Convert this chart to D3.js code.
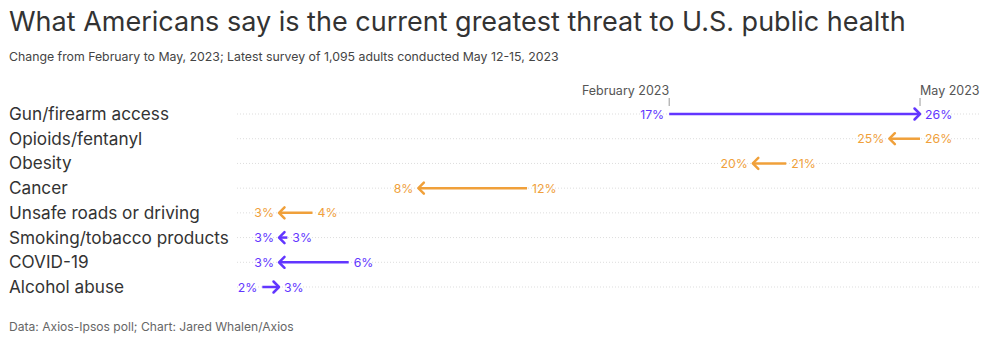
<!DOCTYPE html>
<html><head><meta charset="utf-8">
<script src="https://cdn.jsdelivr.net/npm/d3@7"></script>
<style>
body{margin:0;background:#fff;}
svg{display:block;font-family:Inter,"Noto Sans",sans-serif;}
</style></head><body>
<svg id="chart" width="1000" height="343"></svg>
<script>
const categories = ["Gun/firearm access","Opioids/fentanyl","Obesity","Cancer","Unsafe roads or driving","Smoking/tobacco products","COVID-19","Alcohol abuse"];
const febValues = [17, 26, 21.2, 11.9, 4.2, 3.3, 5.5, 2.4];
const mayValues = [26, 24.9, 20, 8, 3, 3, 3, 3];
const seriesColor = ["purple","orange","orange","orange","orange","purple","purple","purple"];
const periodLabels = ["February 2023","May 2023"];

const colors = {purple:"#6236ff", orange:"#f0a03a"};
const svg = d3.select("#chart");
const x = d3.scaleLinear().domain([0,30]).range([195.4, 1031.5]);
const y = d3.scalePoint().domain(categories).range([114, 287]);

svg.append("text").attr("x",9).attr("y",31).attr("font-size",27).attr("fill","#333").attr("font-weight",400)
  .text("What Americans say is the current greatest threat to U.S. public health");
svg.append("text").attr("x",9).attr("y",61).attr("font-size",12.3).attr("fill","#444")
  .text("Change from February to May, 2023; Latest survey of 1,095 adults conducted May 12-15, 2023");
svg.append("text").attr("x",9).attr("y",331).attr("font-size",12.1).attr("fill","#666")
  .text("Data: Axios-Ipsos poll; Chart: Jared Whalen/Axios");

// gridlines
svg.append("g").selectAll("line").data(categories).join("line")
  .attr("x1",237).attr("x2",980).attr("y1",d=>y(d)).attr("y2",d=>y(d))
  .attr("stroke","#ddd").attr("stroke-width",1).attr("stroke-dasharray","1,2");

// category labels
svg.append("g").selectAll("text").data(categories).join("text")
  .attr("x",9).attr("y",d=>y(d)+6).attr("font-size",17.2).attr("fill","#333").text(d=>d);

// period ticks (for first row)
const periodX = [x(febValues[0]), x(mayValues[0])];
const pg = svg.append("g");
pg.selectAll("line").data(periodLabels).join("line")
  .attr("x1",(d,i)=>periodX[i]).attr("x2",(d,i)=>periodX[i]).attr("y1",98).attr("y2",106)
  .attr("stroke","#999").attr("stroke-width",1);
pg.selectAll("text").data(periodLabels).join("text")
  .attr("x",(d,i)=>periodX[i]).attr("y",95).attr("text-anchor",(d,i)=>i===0?"end":"start")
  .attr("font-size",12.5).attr("fill","#555").text(d=>d);

const rows = categories.map((c,i)=>({c, feb:febValues[i], may:mayValues[i], col:colors[seriesColor[i]]}));
const g = svg.append("g");
rows.forEach(r=>{
  const yy = y(r.c), x0 = x(r.feb), x1 = x(r.may);
  const dir = Math.sign(x1-x0) || -1;
  g.append("line").attr("x1",x0).attr("x2",x1).attr("y1",yy).attr("y2",yy)
    .attr("stroke",r.col).attr("stroke-width",2.5);
  const a = 5.5;
  g.append("path").attr("d",`M${x1-dir*a},${yy-a}L${x1},${yy}L${x1-dir*a},${yy+a}`)
    .attr("fill","none").attr("stroke",r.col).attr("stroke-width",2.5).attr("stroke-linecap","round").attr("stroke-linejoin","round");
  const lo = Math.min(r.feb,r.may), hi = Math.max(r.feb,r.may);
  const loLabel = r.feb<r.may ? r.feb : r.may, hiLabel = r.feb<r.may ? r.may : r.feb;
  g.append("text").attr("x",x(lo)-5).attr("y",yy+4.5).attr("text-anchor","end")
    .attr("font-size",12.3).attr("fill",r.col).text(Math.round(loLabel)+"%");
  g.append("text").attr("x",x(hi)+5).attr("y",yy+4.5).attr("text-anchor","start")
    .attr("font-size",12.3).attr("fill",r.col).text(Math.round(hiLabel)+"%");
});
</script></body></html>
